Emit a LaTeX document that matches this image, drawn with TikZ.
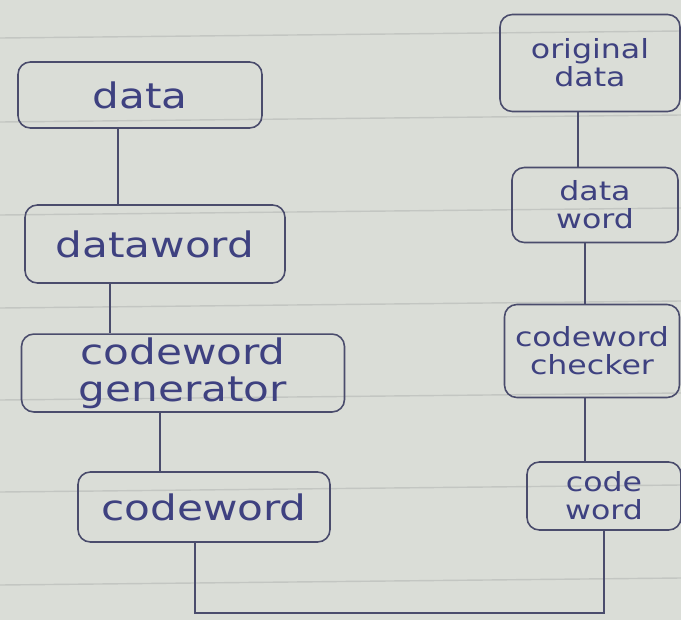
\documentclass[tikz,border=0pt]{standalone}
\usepackage{fontspec}
\newfontfamily\handfont[FakeStretch=1.2]{DejaVu Sans}
\definecolor{ink}{HTML}{4A4C6C}
\definecolor{inktext}{HTML}{3E4180}
\definecolor{paper}{HTML}{DADDD7}
\definecolor{ruling}{HTML}{C3C6C2}
\begin{document}
\begin{tikzpicture}[x=0.02cm, y=-0.02cm,
  blk/.style={draw=ink, line width=0.9pt, rounded corners=7pt, align=center, text=inktext, inner sep=2pt},
  bigblk/.style={blk, font=\handfont\fontsize{20}{21}\selectfont},
  smallblk/.style={blk, font=\handfont\fontsize{15}{16}\selectfont},
  wire/.style={draw=ink, line width=0.9pt}]
% paper
\fill[paper] (0,0) rectangle (681,620);
\useasboundingbox (0,0) rectangle (681,620);
\foreach \ry in {38,122,215,308,400,492,585}
  \draw[ruling, line width=0.8pt] (0,\ry) -- (681,\ry-7);
% sender side
\node[bigblk, minimum width=4.88cm, minimum height=1.32cm] (data) at (140,95) {data};
\node[bigblk, minimum width=5.2cm, minimum height=1.56cm] (dataword) at (155,244) {dataword};
\node[bigblk, minimum width=6.46cm, minimum height=1.4cm] (generator) at (183,373) {codeword\\generator};
\node[bigblk, minimum width=5.04cm, minimum height=1.4cm] (codeword) at (204,507) {codeword};
% receiver side
\node[smallblk, minimum width=3.6cm, minimum height=1.94cm] (original) at (590,63) {original\\data};
\node[smallblk, minimum width=3.32cm, minimum height=1.5cm] (dataword2) at (595,205) {data\\word};
\node[smallblk, minimum width=3.5cm, minimum height=1.86cm] (checker) at (592,351) {codeword\\checker};
\node[smallblk, minimum width=3.08cm, minimum height=1.36cm] (codeword2) at (604,496) {code\\word};
% links
\draw[wire] (data.south) ++(-22,0) coordinate (d1) -- (d1 |- dataword.north);
\draw[wire] (dataword.south) ++(-45,0) coordinate (d2) -- (d2 |- generator.north);
\draw[wire] (generator.south) ++(-23,0) coordinate (d3) -- (d3 |- codeword.north);
\draw[wire] (codeword.south) ++(-9,0) coordinate (d4) -- ++(0,70) -| (codeword2.south);
\draw[wire] (codeword2.north) ++(-19,0) coordinate (r1) -- (r1 |- checker.south);
\draw[wire] (checker.north) ++(-7,0) coordinate (r2) -- (r2 |- dataword2.south);
\draw[wire] (dataword2.north) ++(-17,0) coordinate (r3) -- (r3 |- original.south);
\end{tikzpicture}
\end{document}
